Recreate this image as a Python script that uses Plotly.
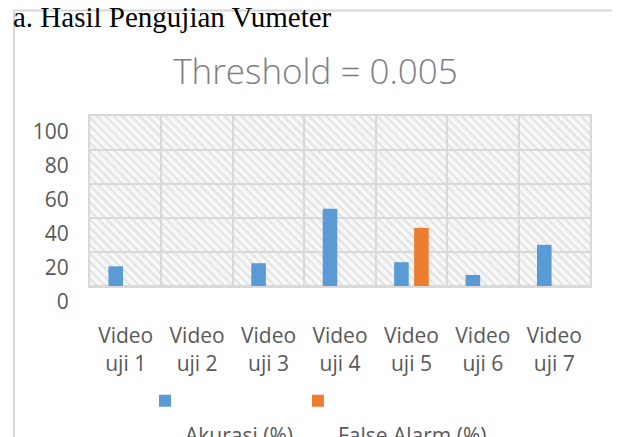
import base64
import plotly.graph_objects as go

categories = ["Video<br>uji 1", "Video<br>uji 2", "Video<br>uji 3", "Video<br>uji 4",
              "Video<br>uji 5", "Video<br>uji 6", "Video<br>uji 7"]
akurasi = [11.6, 0, 13.4, 45.4, 14.0, 6.5, 24.2]
false_alarm = [0, 0, 0, 0, 34.2, 0, 0]
y_ticks = [0, 20, 40, 60, 80, 100]

# the page adds an 8px body margin, so the figure is sized to fill the rest of the window
OFF = 8
W, H = 620 - OFF, 437 - OFF
L, R, T, B = 82, 30, 108, 151
pw, ph = W - L - R, H - T - B

def px_x(page_x):
    return (page_x - OFF - L) / pw

def px_y(page_y):
    return (H - B - (page_y - OFF)) / ph

# hatched background for the plot area
svg = f'''<svg xmlns="http://www.w3.org/2000/svg" width="{pw}" height="{ph}" viewBox="0 0 {pw} {ph}" preserveAspectRatio="none">
<defs><pattern id="p" width="6" height="6" patternUnits="userSpaceOnUse" patternTransform="rotate(45)">
<rect width="6" height="6" fill="#f7f7f7"/><rect width="6" height="2.2" fill="#e3e3e3"/></pattern></defs>
<rect width="{pw}" height="{ph}" fill="url(#p)"/></svg>'''
src = "data:image/svg+xml;base64," + base64.b64encode(svg.encode()).decode()

def legend_name(s):
    return "<span style='font-size:21px'> </span><br><span style='font-size:21px'>" + s + "</span>"

fig = go.Figure()
fig.add_trace(go.Bar(x=categories, y=akurasi, name=legend_name("Akurasi (%)"),
                     marker=dict(color="#5b9bd5", line=dict(width=0))))
fig.add_trace(go.Bar(x=categories, y=false_alarm, name=legend_name("False Alarm (%)"),
                     marker=dict(color="#ed7d31", line=dict(width=0))))

fig.update_layout(
    width=W, height=H,
    margin=dict(l=L, r=R, t=T, b=B, autoexpand=False),
    paper_bgcolor="white",
    plot_bgcolor="rgba(0,0,0,0)",
    barmode="group", bargap=0.44, bargroupgap=0.27,
    font=dict(family="Open Sans", color="#595959"),
    title=dict(text="Threshold = 0.005", x=(315.5 - OFF) / W, xanchor="center",
               y=1 - (72 - OFF) / H, yanchor="middle", yref="container",
               font=dict(family="Open Sans", size=35, color="#7f7f7f", weight=300)),
    showlegend=True,
    legend=dict(orientation="h", x=px_x(145), xanchor="left",
                y=px_y(378), yanchor="top", valign="top",
                font=dict(size=25, color="#595959"),
                bgcolor="rgba(0,0,0,0)", traceorder="normal"),
    images=[dict(source=src, xref="paper", yref="paper", x=0, y=1,
                 sizex=1, sizey=1, sizing="stretch", layer="below",
                 xanchor="left", yanchor="top")],
)
fig.update_xaxes(type="category", tickson="boundaries", showgrid=True,
                 gridcolor="#d9d9d9", gridwidth=2, showline=True, linecolor="#d9d9d9",
                 linewidth=2, mirror=True, ticks="", tickfont=dict(size=21, color="#595959"),
                 ticklabelstandoff=30)
fig.update_yaxes(range=[0, 100], tickvals=y_ticks, showgrid=True, gridcolor="#d9d9d9",
                 gridwidth=2, zeroline=True, zerolinecolor="#d9d9d9", zerolinewidth=2,
                 showline=True, linecolor="#d9d9d9", linewidth=2, mirror=True, ticks="",
                 tickfont=dict(size=21, color="#595959"), ticklabelshift=16,
                 ticklabelstandoff=15)

fig.add_shape(type="rect", xref="paper", yref="paper",
              x0=px_x(14), x1=px_x(616), y0=px_y(470), y1=px_y(10.5),
              line=dict(color="#d6d6d6", width=2), fillcolor="rgba(0,0,0,0)", layer="below")
fig.add_annotation(text="a. Hasil Pengujian Vumeter", xref="paper", yref="paper",
                   x=px_x(11), y=px_y(17), xanchor="left", yanchor="middle",
                   showarrow=False, font=dict(family="Liberation Serif", size=29, color="black"))

fig.write_html("out.html")
